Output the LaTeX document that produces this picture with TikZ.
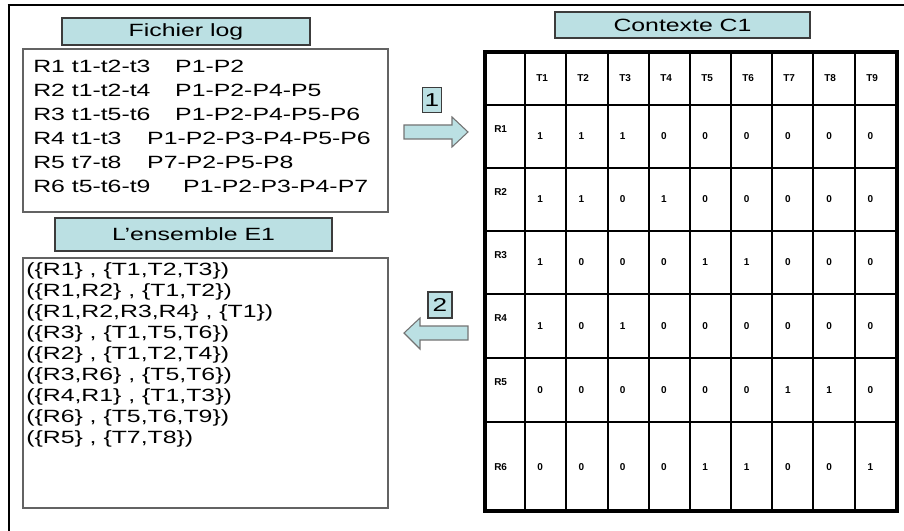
\documentclass[tikz,border=0pt]{standalone}
\usepackage{fontspec}
\setmainfont{Liberation Sans}
\newfontfamily\widefont[FakeStretch=1.4]{Liberation Sans}
\definecolor{tb}{RGB}{187,224,227}
\definecolor{bd}{RGB}{60,60,60}
\tikzset{
  x=0.75pt, y=-0.75pt,
  titlebox/.style={draw=bd, line width=1.1pt, fill=tb, inner sep=0pt, font=\widefont\fontsize{13.3}{15}\selectfont},
  contentbox/.style={draw=bd!80, line width=0.8pt, inner sep=0pt},
  txt/.style={anchor=base west, inner sep=0pt, font=\widefont\fontsize{13.3}{15}\selectfont},
  cell/.style={anchor=west, inner sep=0pt, font=\bfseries\fontsize{7.5}{8}\selectfont},
  blockarrow/.style={draw=black!55, line width=0.8pt, fill=tb},
  numbox/.style={draw=bd, line width=0.8pt, fill=tb, inner sep=0pt, font=\widefont\fontsize{14}{15}\selectfont},
}
\begin{document}
\begin{tikzpicture}
\useasboundingbox (0,0) rectangle (904,531);
% outer frame (cropped)
\draw[line width=2.2pt] (9,531) -- (9,4.5);
\draw[line width=1.3pt] (7.5,5) -- (904,5);

% Fichier log
\node[titlebox, minimum width=186pt, minimum height=20.25pt] (tlog) at (186,31.5) {Fichier log};
\node[contentbox, minimum width=273.75pt, minimum height=122.25pt] (blog) at (205.5,130.5) {};
\node[txt] (l1) at (33,72.5) {\makebox[106.5pt][l]{R1 t1-t2-t3}P1-P2};
\node[txt] (l2) at (33,96.5) {\makebox[106.5pt][l]{R2 t1-t2-t4}P1-P2-P4-P5};
\node[txt] (l3) at (33,120.5) {\makebox[106.5pt][l]{R3 t1-t5-t6}P1-P2-P4-P5-P6};
\node[txt] (l4) at (33,144.5) {\makebox[85.5pt][l]{R4 t1-t3}P1-P2-P3-P4-P5-P6};
\node[txt] (l5) at (33,168.5) {\makebox[85.5pt][l]{R5 t7-t8}P7-P2-P5-P8};
\node[txt] (l6) at (33,192.5) {\makebox[112.5pt][l]{R6 t5-t6-t9}P1-P2-P3-P4-P7};

% L'ensemble E1
\node[titlebox, minimum width=207.75pt, minimum height=24.75pt] (te1) at (193.5,234.5) {L’ensemble E1};
\node[contentbox, minimum width=273.75pt, minimum height=187.5pt] (be1) at (205.5,383) {};
\node[txt] (e1) at (26,275.5) {(\{R1\} , \{T1,T2,T3\})};
\node[txt] (e2) at (26,296.5) {(\{R1,R2\} , \{T1,T2\})};
\node[txt] (e3) at (26,317.5) {(\{R1,R2,R3,R4\} , \{T1\})};
\node[txt] (e4) at (26,338.5) {(\{R3\} , \{T1,T5,T6\})};
\node[txt] (e5) at (26,359.5) {(\{R2\} , \{T1,T2,T4\})};
\node[txt] (e6) at (26,380.5) {(\{R3,R6\} , \{T5,T6\})};
\node[txt] (e7) at (26,401.5) {(\{R4,R1\} , \{T1,T3\})};
\node[txt] (e8) at (26,422.5) {(\{R6\} , \{T5,T6,T9\})};
\node[txt] (e9) at (26,443.5) {(\{R5\} , \{T7,T8\})};

% Contexte C1
\node[titlebox, minimum width=191.25pt, minimum height=19.5pt] (tc1) at (682.5,25) {Contexte C1};

% table grid
\foreach \x in {525,566,608,649,690,731,772,813,855}
  \draw[line width=0.8pt] (\x,52) -- (\x,511);
\foreach \y in {105,168,231,294,358,422}
  \draw[line width=0.8pt] (485,\y) -- (897,\y);
\draw[line width=3pt] (485,52) rectangle (897,511);

% header
\foreach \c [count=\i] in {525,566,608,649,690,731,772,813,855}
  \node[cell] (h\i) at (\c+11,78) {T\i};
% row labels
\foreach \t/\j in {105/1,168/2,231/3,294/4,358/5}
  \node[cell] (r\j) at (494,\t+24) {R\j};
\node[cell] (r6) at (494,467) {R6};
% values
\foreach \yc/\vals [count=\j] in {136.5/{1,1,1,0,0,0,0,0,0},199.5/{1,1,0,1,0,0,0,0,0},262.5/{1,0,0,0,1,1,0,0,0},326/{1,0,1,0,0,0,0,0,0},390/{0,0,0,0,0,0,1,1,0},467/{0,0,0,0,1,1,0,0,1}}{
  \foreach \v [count=\i] in \vals {
    \pgfmathsetmacro{\cx}{525+41.3*(\i-1)+12}
    \node[cell] (v\j-\i) at (\cx,\yc) {\v};
  }
}

% arrow 1
\node[numbox, minimum width=14.25pt, minimum height=18.75pt] (n1) at (432,100) {1};
\draw[blockarrow] (404,125) -- (452,125) -- (452,117) -- (468,132) -- (452,147) -- (452,139) -- (404,139) -- cycle;
% arrow 2
\node[numbox, minimum width=18pt, minimum height=19.5pt] (n2) at (440,305) {2};
\draw[blockarrow] (468,326) -- (420,326) -- (420,318) -- (404,333) -- (420,349) -- (420,340) -- (468,340) -- cycle;
\end{tikzpicture}
\end{document}
